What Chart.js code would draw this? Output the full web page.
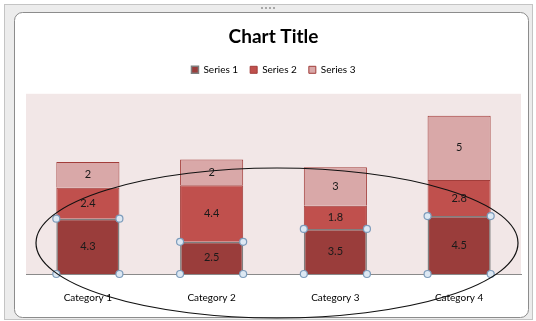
<!DOCTYPE html>
<html lang="en">
<head>
<meta charset="UTF-8">
<title>Chart Title</title>
<script src="https://cdn.jsdelivr.net/npm/chart.js@4.4.0/dist/chart.umd.min.js"></script>
<style>
  html, body { margin: 0; padding: 0; background: #fff; }
  #wrap { width: 536px; height: 321px; }
</style>
</head>
<body>
<div id="wrap"><canvas id="myChart" width="536" height="321"></canvas></div>
<script>
'use strict';

// stacked values per category
const categories = ['Category 1', 'Category 2', 'Category 3', 'Category 4'];
const series1 = [4.3, 2.5, 3.5, 4.5];
const series2 = [2.4, 4.4, 1.8, 2.8];
const series3 = [2, 2, 3, 5];
const seriesNames = ['Series 1', 'Series 2', 'Series 3'];

const FONT = 'Lato, "Open Sans", sans-serif';

// window frame + pink plot area behind the bars
const framePlugin = {
  id: 'frame',
  afterInit(chart) {
    // extra room between legend and plot area
    const legend = chart.legend;
    const fit = legend.fit;
    legend.fit = function () {
      fit.call(this);
      this.height += 9;
    };
  },
  beforeDraw(chart) {
    const c = chart.ctx;
    const a = chart.chartArea;
    c.save();
    c.fillStyle = '#ececec';
    c.fillRect(4, 4, 529, 316);
    c.strokeStyle = '#c4c4c4';
    c.lineWidth = 1;
    c.strokeRect(4.5, 4.5, 528, 315);
    // grip dots at the top
    c.fillStyle = '#a8a8a8';
    for (let i = 0; i < 4; i++) c.fillRect(261 + i * 4, 7, 2, 2);
    c.beginPath();
    c.roundRect(14.5, 12.5, 514, 305, 8);
    c.fillStyle = '#fff';
    c.fill();
    c.strokeStyle = '#8c8c8c';
    c.stroke();
    c.fillStyle = '#f2e7e7';
    c.fillRect(a.left, a.top, a.right - a.left, a.bottom - a.top);
    c.restore();
  }
};

// value labels in the middle of each segment, selection handles, ellipse
const overlayPlugin = {
  id: 'overlay',
  afterDatasetsDraw(chart) {
    const c = chart.ctx;
    c.save();
    c.font = '11px ' + FONT;
    c.fillStyle = '#1a1a1a';
    c.textAlign = 'center';
    c.textBaseline = 'middle';
    chart.data.datasets.forEach((ds, di) => {
      chart.getDatasetMeta(di).data.forEach((bar, i) => {
        c.fillText(String(ds.data[i]), bar.x, (bar.y + bar.base) / 2);
      });
    });
    // handles on the selected series
    chart.getDatasetMeta(0).data.forEach(bar => {
      const l = bar.x - bar.width / 2, r = bar.x + bar.width / 2;
      [[l, bar.y], [r, bar.y], [l, bar.base], [r, bar.base]].forEach(([x, y]) => {
        c.beginPath();
        c.arc(x, y, 3.5, 0, Math.PI * 2);
        c.fillStyle = '#dde8f3';
        c.fill();
        c.strokeStyle = '#7d9cbb';
        c.lineWidth = 1.2;
        c.stroke();
      });
    });
    c.beginPath();
    c.ellipse(277, 243, 241, 75, 0, 0, Math.PI * 2);
    c.strokeStyle = '#111';
    c.lineWidth = 1.2;
    c.stroke();
    c.restore();
  }
};

const ctx = document.getElementById('myChart').getContext('2d');
new Chart(ctx, {
  type: 'bar',
  data: {
    labels: categories,
    datasets: [
      { label: seriesNames[0], data: series1, backgroundColor: '#9a3d3b', borderColor: '#7f7f7f', borderWidth: 1.5 },
      { label: seriesNames[1], data: series2, backgroundColor: '#c0504d', borderColor: '#a23d3a', borderWidth: 1 },
      { label: seriesNames[2], data: series3, backgroundColor: '#d9a8a8', borderColor: '#a23d3a', borderWidth: 1 }
    ]
  },
  options: {
    responsive: false,
    animation: false,
    layout: { padding: { left: 26, right: 15, top: 12, bottom: 7 } },
    datasets: { bar: { categoryPercentage: 1, barPercentage: 0.51 } },
    plugins: {
      title: {
        display: true,
        text: 'Chart Title',
        color: '#000',
        font: { family: FONT, size: 19, weight: 'bold' },
        padding: { top: 13, bottom: 5 }
      },
      legend: {
        labels: {
          color: '#000',
          font: { family: FONT, size: 10 },
          boxWidth: 7,
          boxHeight: 7,
          padding: 12
        }
      },
      tooltip: { enabled: false }
    },
    scales: {
      x: {
        stacked: true,
        grid: { display: false },
        border: { color: '#8a8a8a' },
        ticks: { color: '#000', font: { family: FONT, size: 10 }, padding: 10 }
      },
      y: {
        stacked: true,
        display: false,
        min: 0,
        max: 14
      }
    }
  },
  plugins: [framePlugin, overlayPlugin]
});
</script>
</body>
</html>
